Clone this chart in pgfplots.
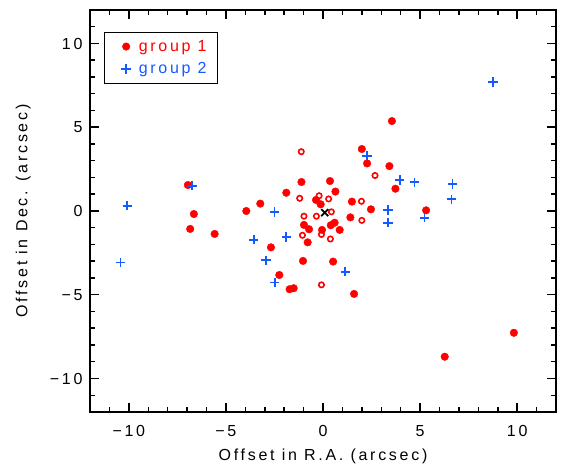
\documentclass[border=0pt]{standalone}
\usepackage{pgfplots}
\pgfplotsset{compat=1.18}
\usepackage{fontspec}
\setmainfont{Liberation Sans}[LetterSpace=17]
\definecolor{myblue}{RGB}{20,90,255}
\newcommand\lblfont{\fontsize{16}{18}\selectfont}
\begin{document}
\begin{tikzpicture}
\begin{axis}[
 at={(0pt,0pt)}, anchor=south west,
 width=466pt, height=402pt, scale only axis,
 clip=false,
 xmin=-12, xmax=12, ymin=-12, ymax=12,
 xtick={-10,-5,0,5,10}, xticklabels={−10,−5,0,5,10},
 ytick={-10,-5,0,5,10}, yticklabels={−10,−5,0,5,10},
 minor tick num=4,
 tick align=inside,
 major tick length=9pt, minor tick length=5pt,
 every tick/.append style={black, line width=1.5pt},
 axis line style={line width=1.6pt},
 tick label style={font=\lblfont},
 label style={font=\lblfont},
 xticklabel style={yshift=-10pt},
 yticklabel style={xshift=-4pt},
 xlabel={Offset in R.A. (arcsec)}, ylabel={Offset in Dec. (arcsec)},
 xlabel style={at={(axis description cs:0.5,-0.11)}, anchor=center},
 ylabel style={at={(axis description cs:-0.143,0.5)}, anchor=center},
 legend style={at={(axis description cs:0.03,0.946)}, anchor=north west, draw=black, line width=1.2pt, font=\lblfont, row sep=6pt, inner xsep=9pt, inner ysep=6pt},
 legend image code/.code={\path (0pt,0pt) (22pt,0pt); \draw[#1] plot coordinates {(12pt,0pt)};},
 legend cell align=left,
]
\addplot[only marks, mark=*, mark size=3.8pt, mark options={fill=red, draw=red, line width=0.4pt}] coordinates {
(3.55,5.37) (2.0,3.7) (2.27,2.84) (3.42,2.68) (3.73,1.33) (5.31,0.04)
(2.47,0.1) (1.49,0.56) (1.41,-0.38) (0.36,1.79) (0.64,1.16) (-0.36,0.66)
(-0.12,0.4) (0.6,-0.7) (0.4,-0.85) (0.86,-1.13) (-0.05,-1.13) (0.52,-3.02)
(1.6,-4.95) (-1.11,1.73) (-1.89,1.09) (-3.23,0.44) (-3.95,0.0) (-0.98,-0.83)
(-0.72,-1.09) (-0.79,-1.87) (-2.68,-2.17) (-1.03,-2.98) (-2.25,-3.82)
(-1.72,-4.67) (-1.51,-4.61) (-6.96,1.55) (-6.65,-0.18) (-6.84,-1.07)
(-5.58,-1.37) (6.27,-8.7) (9.83,-7.27)
};
\addlegendentry{\textcolor{red}{group 1}}
\addplot[forget plot, only marks, mark=o, mark size=2.7pt, mark options={draw=red, line width=1.6pt}] coordinates {
(-1.12,3.54) (-1.2,0.76) (-0.2,0.91) (0.29,0.72) (1.98,0.58) (2.68,2.12)
(-0.98,-0.31) (-0.34,-0.31) (0.43,-0.05) (2.0,-0.56) (-0.08,-1.4)
(-1.06,-1.45) (0.38,-1.67) (-0.08,-4.41)
};
\addplot[only marks, mark=+, mark size=4.7pt, mark options={draw=myblue, line width=1.8pt}] coordinates {
(8.75,7.69) (-10.08,0.32) (-10.43,-3.08) (-6.75,1.51) (-3.57,-1.71)
(-2.5,-0.06) (-1.89,-1.55) (-2.94,-2.94) (-2.49,-4.27) (1.15,-3.62)
(2.27,3.3) (3.95,1.85) (4.71,1.71) (3.35,0.06) (3.35,-0.7) (5.23,-0.4)
(6.67,1.61) (6.62,0.70)
};
\addlegendentry{\textcolor{myblue}{group 2}}
\addplot[forget plot, only marks, mark=x, mark size=5pt, mark options={draw=black, line width=1.8pt}] coordinates {
(0.09,-0.1)
};
\pgfplotsinvokeforeach{-11,-9,-8,-7,-6,-4,-3,-2,-1,1,2,3,4,6,7,8,9,11}{
  \fill[black] ([xshift=-0.7pt]axis cs:#1,-12) rectangle ([xshift=0.7pt,yshift=5pt]axis cs:#1,-12);
  \fill[black] ([xshift=-0.7pt]axis cs:#1,12) rectangle ([xshift=0.7pt,yshift=-5pt]axis cs:#1,12);
  \fill[black] ([yshift=-0.7pt]axis cs:-12,#1) rectangle ([yshift=0.7pt,xshift=5pt]axis cs:-12,#1);
  \fill[black] ([yshift=-0.7pt]axis cs:12,#1) rectangle ([yshift=0.7pt,xshift=-5pt]axis cs:12,#1);
}
\pgfplotsinvokeforeach{-10,-5,0,5,10}{
  \fill[black] ([xshift=-0.7pt]axis cs:#1,-12) rectangle ([xshift=0.7pt,yshift=9pt]axis cs:#1,-12);
  \fill[black] ([xshift=-0.7pt]axis cs:#1,12) rectangle ([xshift=0.7pt,yshift=-9pt]axis cs:#1,12);
  \fill[black] ([yshift=-0.7pt]axis cs:-12,#1) rectangle ([yshift=0.7pt,xshift=9pt]axis cs:-12,#1);
  \fill[black] ([yshift=-0.7pt]axis cs:12,#1) rectangle ([yshift=0.7pt,xshift=-9pt]axis cs:12,#1);
}
\draw[black, line width=1.6pt] (rel axis cs:0,0) rectangle (rel axis cs:1,1);
\end{axis}
\path (-90pt,-55pt) rectangle (472pt,412pt);
\end{tikzpicture}
\end{document}
